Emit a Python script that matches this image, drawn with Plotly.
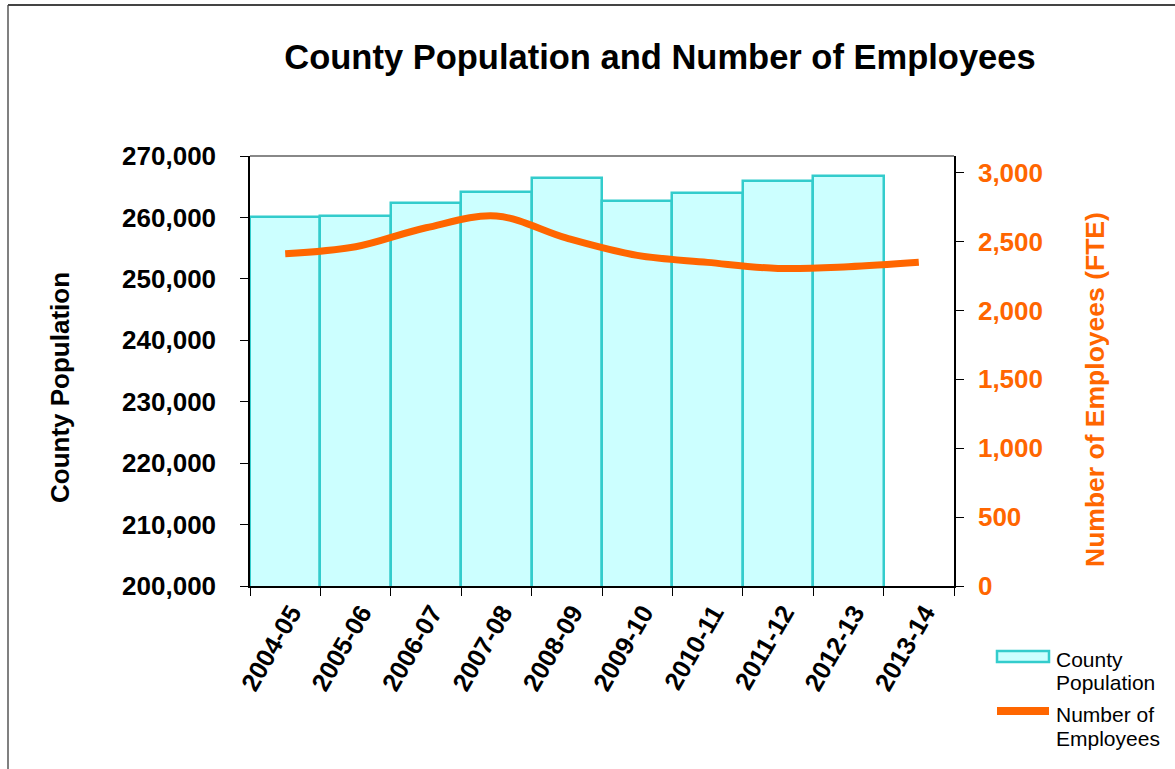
import plotly.graph_objects as go

# Fiscal years on the category axis
years = ["2004-05", "2005-06", "2006-07", "2007-08", "2008-09",
         "2009-10", "2010-11", "2011-12", "2012-13", "2013-14"]

# County population (bars, left axis) - no figure yet for 2013-14
population = [260150, 260300, 262400, 264100, 266450,
              262600, 264000, 266000, 266800]

# Full-time-equivalent employees (line, right axis)
employees = [2411, 2462, 2600, 2685, 2525, 2400, 2349, 2305, 2317, 2349]

FONT = "Arial, Liberation Sans, sans-serif"
ORANGE = "#FF6600"
BAR_FILL = "#CCFFFF"
BAR_EDGE = "#33CCCC"

W, H = 1175, 769
L, R, T, B = 250, 221, 156, 183
PW, PH = W - L - R, H - T - B


def px(x):
    """pixel x -> paper x"""
    return (x - L) / PW


def py(y):
    """pixel y -> paper y"""
    return (H - B - y) / PH


fig = go.Figure()

fig.add_trace(go.Bar(
    x=years[:len(population)], y=population, name="County Population",
    marker=dict(color=BAR_FILL, line=dict(color=BAR_EDGE, width=2.5)),
    width=1.0, yaxis="y",
))

fig.add_trace(go.Scatter(
    x=years, y=employees, name="Number of Employees", mode="lines",
    line=dict(color=ORANGE, width=7, shape="spline", smoothing=1),
    yaxis="y2",
))

axis_font = dict(family=FONT, size=26, color="black", weight="bold")

fig.update_layout(
    width=W, height=H,
    margin=dict(l=L, r=R, t=T, b=B),
    paper_bgcolor="white", plot_bgcolor="white",
    showlegend=False, bargap=0,
    font=dict(family=FONT, color="black"),
    title=dict(
        text="County Population and Number of Employees",
        x=660 / W, xanchor="center", y=1 - 57 / H, yanchor="middle",
        font=dict(family=FONT, size=34.5, color="black", weight="bold"),
    ),
    xaxis=dict(
        type="category", categoryorder="array", categoryarray=years,
        range=[-0.5, len(years) - 0.5],
        tickson="boundaries", ticks="outside", ticklen=8, tickcolor="black",
        showline=True, linecolor="black", linewidth=1.5,
        showgrid=False, tickangle=-60, ticklabelshift=6,
        tickfont=dict(family=FONT, size=25.5, color="black", weight="bold"),
    ),
    yaxis=dict(
        range=[200000, 270000], dtick=10000, tickformat=",",
        ticks="outside", ticklen=8, tickcolor="black",
        showline=True, linecolor="black", linewidth=1.5,
        showgrid=False, zeroline=False, ticklabelstandoff=19,
        tickfont=axis_font,
    ),
    yaxis2=dict(
        overlaying="y", side="right",
        range=[0, 3121], dtick=500, tickformat=",",
        ticks="outside", ticklen=8, tickcolor="black",
        showline=True, linecolor="black", linewidth=1.5,
        showgrid=False, zeroline=False, ticklabelstandoff=9,
        tickfont=dict(family=FONT, size=26, color=ORANGE, weight="bold"),
    ),
)

shapes = [
    # top edge of the plot area
    dict(type="line", xref="paper", yref="paper", x0=0, x1=1, y0=1, y1=1,
         line=dict(color="#888888", width=2)),
    # chart frame (left and top)
    dict(type="line", xref="paper", yref="paper",
         x0=px(8), x1=px(8), y0=py(5), y1=py(H + 5),
         line=dict(color="#808080", width=2)),
    dict(type="line", xref="paper", yref="paper",
         x0=px(8), x1=px(W + 5), y0=py(5), y1=py(5),
         line=dict(color="#444444", width=2)),
    # legend keys
    dict(type="rect", xref="paper", yref="paper",
         x0=px(997), x1=px(1049), y0=py(662), y1=py(651),
         fillcolor=BAR_FILL, line=dict(color=BAR_EDGE, width=2.5)),
    dict(type="line", xref="paper", yref="paper",
         x0=px(997), x1=px(1049), y0=py(711), y1=py(711),
         line=dict(color=ORANGE, width=8)),
]

annotations = [
    dict(text="County Population", xref="paper", yref="paper",
         x=px(60), y=py(388), textangle=-90, showarrow=False,
         xanchor="center", yanchor="middle", font=axis_font),
    dict(text="Number of Employees (FTE)", xref="paper", yref="paper",
         x=px(1095), y=py(390), textangle=-90, showarrow=False,
         xanchor="center", yanchor="middle",
         font=dict(family=FONT, size=26.5, color=ORANGE, weight="bold")),
]

legend_lines = [("County", 659), ("Population", 682),
                ("Number of", 714), ("Employees", 738)]
for txt, yy in legend_lines:
    annotations.append(dict(
        text=txt, xref="paper", yref="paper", x=px(1054), y=py(yy),
        xanchor="left", yanchor="middle", showarrow=False,
        font=dict(family=FONT, size=21, color="black"),
    ))

fig.update_layout(shapes=shapes, annotations=annotations)

fig.write_html("out.html")
